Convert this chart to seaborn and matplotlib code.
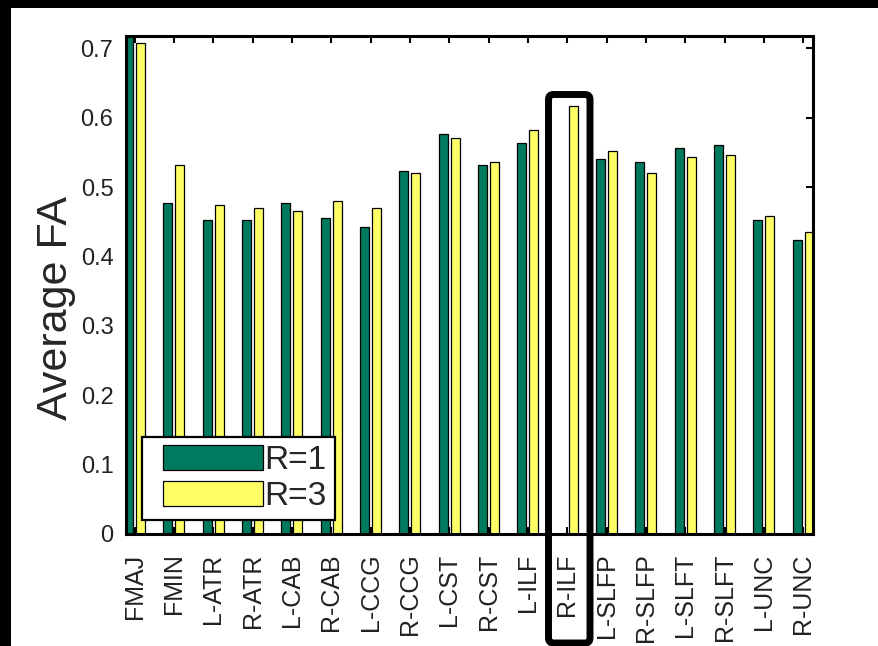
import matplotlib
matplotlib.use("Agg")
import matplotlib.pyplot as plt
import seaborn as sns
import pandas as pd
from matplotlib.patches import Patch, Rectangle, FancyBboxPatch
from matplotlib.legend_handler import HandlerPatch
from matplotlib.transforms import IdentityTransform

tracts = ["FMAJ", "FMIN", "L-ATR", "R-ATR", "L-CAB", "R-CAB", "L-CCG", "R-CCG",
          "L-CST", "R-CST", "L-ILF", "R-ILF", "L-SLFP", "R-SLFP", "L-SLFT",
          "R-SLFT", "L-UNC", "R-UNC"]
r1_values = [0.730, 0.477, 0.453, 0.453, 0.477, 0.456, 0.443, 0.524, 0.576,
             0.532, 0.564, 0.0, 0.540, 0.537, 0.557, 0.561, 0.453, 0.424]
r3_values = [0.708, 0.532, 0.475, 0.470, 0.465, 0.480, 0.470, 0.520, 0.571,
             0.537, 0.583, 0.617, 0.552, 0.520, 0.544, 0.547, 0.458, 0.436]
series_labels = ["R=1", "R=3"]
y_ticks = [0, 0.1, 0.2, 0.3, 0.4, 0.5, 0.6, 0.7]
y_tick_labels = ["0", "0.1", "0.2", "0.3", "0.4", "0.5", "0.6", "0.7"]

green = "#007A5E"
yellow = "#FFFF66"

df = pd.DataFrame({
    "tract": tracts * 2,
    "value": r1_values + r3_values,
    "series": [series_labels[0]] * len(tracts) + [series_labels[1]] * len(tracts),
})

sns.set_theme(style="white")
plt.rcParams["font.family"] = ["Liberation Sans", "DejaVu Sans"]

fig = plt.figure(figsize=(8.79, 6.46), dpi=100, facecolor="white")
ax = fig.add_axes([0.1433, 0.1734, 0.7816, 0.7709])

sns.barplot(data=df, x="tract", y="value", hue="series", order=tracts,
            hue_order=series_labels, palette=[green, yellow], width=0.612,
            gap=0.25, edgecolor="black", linewidth=0.9, saturation=1,
            legend=False, ax=ax)

ax.set_xlim(-0.22, 17.25)
ax.set_ylim(0, 0.718)
ax.set_yticks(y_ticks)
ax.set_yticklabels(y_tick_labels)
ax.set_xticks(range(len(tracts)))
ax.set_xticklabels(tracts, rotation=90, ha="center", va="top")
ax.set_xlabel("")
ax.set_ylabel("Average FA", fontsize=31)
ax.yaxis.set_label_coords(-0.072, 0.454)

for s in ax.spines.values():
    s.set_visible(True)
    s.set_linewidth(2.2)
    s.set_color("black")

ax.tick_params(axis="both", direction="in", length=5, width=1.5, color="black",
               top=True, right=True, bottom=True, left=True)
ax.tick_params(axis="x", labelsize=18, pad=14)
ax.tick_params(axis="y", labelsize=17, pad=9)
for lab in ax.get_yticklabels() + ax.get_xticklabels():
    lab.set_color("#222222")

handles = [Patch(facecolor=green, edgecolor="black", linewidth=0.9),
           Patch(facecolor=yellow, edgecolor="black", linewidth=0.9)]
leg = ax.legend(handles, series_labels, loc="lower left",
                bbox_to_anchor=(0.023, 0.028), borderaxespad=0,
                fontsize=24, frameon=True, fancybox=False, framealpha=1,
                edgecolor="black", handlelength=3.38, handleheight=0.78,
                handletextpad=0.05, borderpad=0.25, labelspacing=0.13,
                handler_map={Patch: HandlerPatch(xpad=0.38)})
leg.get_frame().set_linewidth(1.6)

# black borders of the screenshot
fig.add_artist(Rectangle((0, 1 - 8 / 646), 1, 8 / 646, transform=fig.transFigure,
                         facecolor="black", edgecolor="none", zorder=10))
fig.add_artist(Rectangle((0, 0), 11 / 879, 1, transform=fig.transFigure,
                         facecolor="black", edgecolor="none", zorder=10))

# highlight box around R-ILF
fig.add_artist(FancyBboxPatch((548.5, 3), 41.5, 548.5,
                              boxstyle="round,pad=0,rounding_size=5",
                              transform=IdentityTransform(), fill=False,
                              edgecolor="black", linewidth=5, zorder=11))

fig.savefig("out.png", dpi=100, facecolor="white")
